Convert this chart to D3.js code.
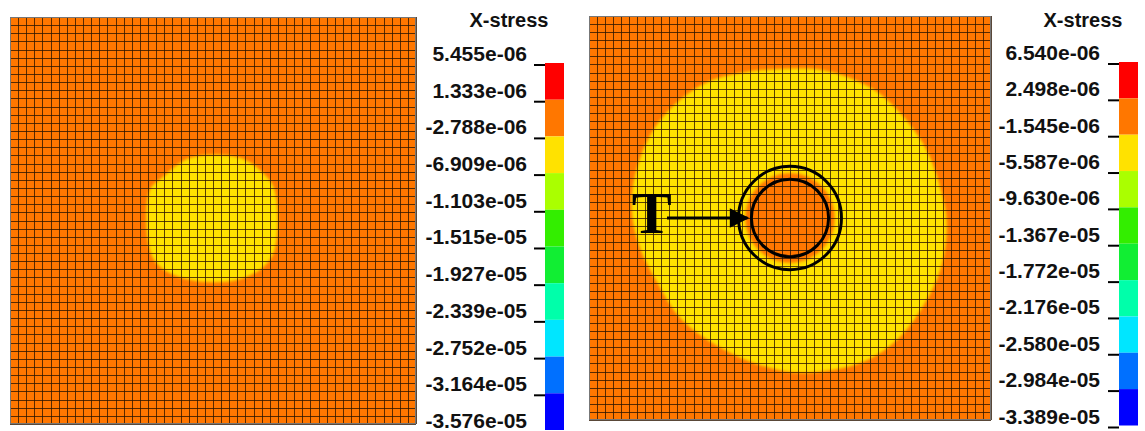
<!DOCTYPE html>
<html><head><meta charset="utf-8">
<script src="https://cdn.jsdelivr.net/npm/d3@7"></script>
<style>body{margin:0;background:#fff}svg{display:block}</style>
</head><body>
<svg id="c" width="1145" height="431"></svg>
<script>
// ---- data ----
const meshCells = 50;
const colorLevels = ["#ff0000","#ff7700","#ffe200","#aaff00","#33ee00","#11ee33","#00ffaa","#00e6ff","#0070ff","#0000ff"];
const leftLabels = ["5.455e-06","1.333e-06","-2.788e-06","-6.909e-06","-1.103e-05","-1.515e-05","-1.927e-05","-2.339e-05","-2.752e-05","-3.164e-05","-3.576e-05"];
const rightLabels = ["6.540e-06","2.498e-06","-1.545e-06","-5.587e-06","-9.630e-06","-1.367e-05","-1.772e-05","-2.176e-05","-2.580e-05","-2.984e-05","-3.389e-05"];
const backgroundLevel = 1; // orange band
// left panel: yellow zone (level 2) boundary, mesh coordinates
const leftZone = [[22.2,17.3],[28.3,17.3],[31.2,19.2],[32.6,21.3],[32.6,28.6],[31.2,30.7],[28.0,32.3],[22.2,32.3],[18.5,30.7],[17.2,28.6],[17.2,21.3],[18.8,19.7]];
// right panel: yellow zone boundary
const rightZone = [[21.3,6.7],[29.1,6.7],[34.9,8.8],[38.7,12.0],[42.0,16.6],[44.0,22.4],[44.5,26.1],[43.7,31.4],[41.5,36.0],[38.3,40.1],[34.6,42.6],[30.3,43.8],[25.4,44.1],[20.4,42.9],[15.4,40.5],[11.3,37.3],[8.5,33.0],[6.3,28.6],[5.3,23.6],[6.0,18.7],[8.0,14.1],[11.3,10.4],[15.4,7.9],[20.4,6.8]];
// right panel: inner orange core (center x, center y, radius) in mesh units
const rightCore = [25.0, 25.0, 5.6];
// annotation circles (radii) and arrow
const markCircles = [[25.0,25.0,4.8],[25.0,25.0,6.4]];
const arrowPts = [[9.7,25.0],[19.7,25.0]];
const arrowLabel = {text:"T", x:7.8, y:26.5};

const svg = d3.select("#c");
const defs = svg.append("defs");
defs.append("filter").attr("id","soft").attr("x","-20%").attr("y","-20%").attr("width","140%").attr("height","140%")
  .append("feGaussianBlur").attr("stdDeviation",1.6);
defs.append("marker").attr("id","ah").attr("viewBox","0 0 10 10").attr("refX",9).attr("refY",5)
  .attr("markerWidth",7.5).attr("markerHeight",6.5).attr("markerUnits","strokeWidth").attr("orient","auto")
  .append("path").attr("d","M0,0L10,5L0,10Z").attr("fill","#000");

function panel(id, px0, px1, py0, py1, zone, core, labels, bar) {
  const x = d3.scaleLinear().domain([0,meshCells]).range([px0,px1]);
  const y = d3.scaleLinear().domain([0,meshCells]).range([py0,py1]);
  defs.append("clipPath").attr("id","clip"+id).append("rect")
    .attr("x",px0).attr("y",py0).attr("width",px1-px0).attr("height",py1-py0);
  const g = svg.append("g");
  g.append("rect").attr("x",px0).attr("y",py0).attr("width",px1-px0).attr("height",py1-py0)
    .attr("fill",colorLevels[backgroundLevel]);
  const fg = g.append("g").attr("clip-path","url(#clip"+id+")").append("g").attr("filter","url(#soft)");
  const line = d3.line().x(d=>x(d[0])).y(d=>y(d[1])).curve(d3.curveCatmullRomClosed);
  fg.append("path").attr("d",line(zone)).attr("fill",colorLevels[2]);
  if (core) {
    fg.append("ellipse").attr("cx",x(core[0])).attr("cy",y(core[1]))
      .attr("rx",x(core[2])-x(0)).attr("ry",y(core[2])-y(0)).attr("fill",colorLevels[1]);
  }
  const idx = d3.range(meshCells+1);
  const gl = g.append("g").attr("stroke","#2a1400").attr("stroke-opacity",0.78).attr("stroke-width",1);
  gl.selectAll("line.v").data(idx).join("line").attr("class","v")
    .attr("x1",d=>Math.round(x(d))+0.5).attr("x2",d=>Math.round(x(d))+0.5).attr("y1",py0).attr("y2",py1);
  gl.selectAll("line.h").data(idx).join("line").attr("class","h")
    .attr("y1",d=>Math.round(y(d))+0.5).attr("y2",d=>Math.round(y(d))+0.5).attr("x1",px0).attr("x2",px1);
  g.append("rect").attr("x",px0+0.5).attr("y",py0+0.5).attr("width",px1-px0-1).attr("height",py1-py0-1)
    .attr("fill","none").attr("stroke","#777").attr("stroke-width",1);

  // colorbar
  const vals = labels.map(Number);
  const cy = d3.scaleLinear().domain([vals[0], vals[vals.length-1]]).range([bar.top, bar.bottom]);
  const cb = svg.append("g");
  cb.selectAll("rect").data(colorLevels).join("rect")
    .attr("x",bar.x).attr("width",bar.w)
    .attr("y",(d,i)=>cy(vals[i]))
    .attr("height",(d,i)=>cy(vals[i+1])-cy(vals[i]))
    .attr("fill",d=>d);
  cb.selectAll("line").data(vals).join("line")
    .attr("x1",bar.x-11).attr("x2",bar.x).attr("y1",d=>cy(d)+2).attr("y2",d=>cy(d)+2)
    .attr("stroke","#000").attr("stroke-width",2);
  cb.selectAll("text.lab").data(labels).join("text").attr("class","lab")
    .attr("x",bar.labelX).attr("y",(d,i)=>cy(vals[i])-2)
    .attr("text-anchor","end").attr("font-family","Liberation Sans, Arial, sans-serif")
    .attr("font-weight","bold").attr("font-size",21).attr("fill","#111").text(d=>d);
  cb.append("text").attr("x",bar.titleX).attr("y",27).attr("text-anchor","middle")
    .attr("font-family","Liberation Sans, Arial, sans-serif").attr("font-weight","bold")
    .attr("font-size",20).attr("fill","#111").text("X-stress");
  return {x,y,g};
}

panel("L", 10, 416, 17, 424, leftZone, null, leftLabels,
  {x:545, w:19, top:63, bottom:430, labelX:527, titleX:509});
const R = panel("R", 589, 991, 16, 420, rightZone, rightCore, rightLabels,
  {x:1119, w:19, top:62, bottom:425.5, labelX:1100, titleX:1083});

// annotations on right panel
const ann = svg.append("g");
ann.selectAll("ellipse").data(markCircles).join("ellipse")
  .attr("cx",d=>R.x(d[0])).attr("cy",d=>R.y(d[1]))
  .attr("rx",d=>R.x(d[2])-R.x(0)).attr("ry",d=>R.y(d[2])-R.y(0))
  .attr("fill","none").attr("stroke","#000").attr("stroke-width",3);
ann.append("path").attr("d",d3.line().x(d=>R.x(d[0])).y(d=>R.y(d[1])).curve(d3.curveLinear)(arrowPts))
  .attr("stroke","#000").attr("stroke-width",3).attr("fill","none").attr("marker-end","url(#ah)");
ann.append("text").attr("x",R.x(arrowLabel.x)).attr("y",R.y(arrowLabel.y)+3)
  .attr("text-anchor","middle").attr("font-family","Liberation Serif, Times New Roman, serif")
  .attr("font-weight","bold").attr("font-size",60).attr("fill","#000").text(arrowLabel.text);
</script>
</body></html>
